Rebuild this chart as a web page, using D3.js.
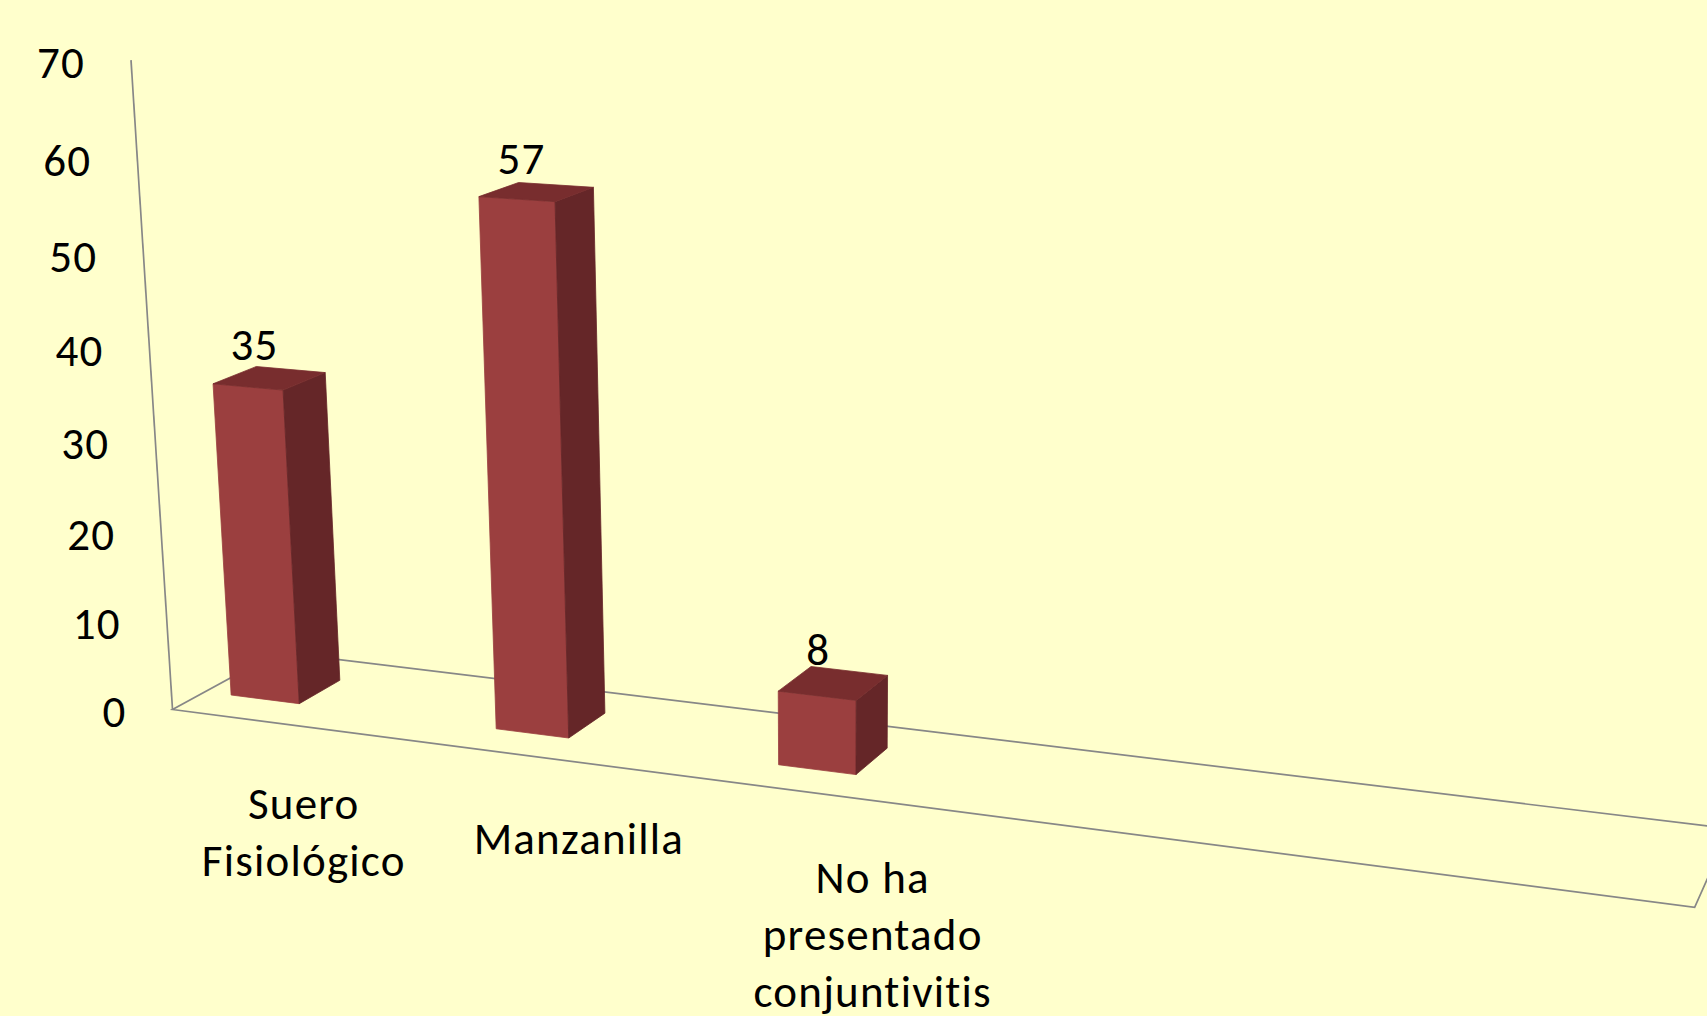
<!DOCTYPE html>
<html>
<head>
<meta charset="utf-8">
<script src="https://cdn.jsdelivr.net/npm/d3@7"></script>
<style>
body { margin: 0; background: #ffffcc; }
svg text { font-family: Carlito, Calibri, Lato, sans-serif; fill: #000; font-variant-ligatures: none; letter-spacing: 1.2px; }
</style>
</head>
<body>
<div id="chart"></div>
<script>
// data
var categories = ["Suero Fisiológico", "Manzanilla", "No ha presentado conjuntivitis"];
var categoryLines = [["Suero", "Fisiológico"], ["Manzanilla"], ["No ha", "presentado", "conjuntivitis"]];
var values = [35, 57, 8];
var yTicks = [0, 10, 20, 30, 40, 50, 60, 70];

// svg dims
var svgWidth = 1707;
var svgHeight = 1016;
var fontSize = 45;

// perspective camera, world coords: x in category steps, y in value units, z = depth (0 front, 1 back)
// each entry is a homogeneous screen vector
var cam = {
    o: [172.5, 709.5, 1],
    x: [252.9, 11.49, -0.03113],
    y: [-0.7039, -9.328, -0.000848],
    z: [119.5, -23.39, 0.05197]
};

function project(x, y, z) {
    var h = [0, 1, 2].map(i => cam.o[i] + x * cam.x[i] + y * cam.y[i] + z * cam.z[i]);
    return [h[0] / h[2], h[1] / h[2]];
}

// scales
var xBand = d3.scaleBand()
    .domain(categories)
    .range([0, 3])
    .paddingInner(0.737)
    .paddingOuter(0.3685);

var yScale = d3.scaleLinear()
    .domain([0, 70])
    .range([0, 70]);

var barShift = -0.267;     // bars sit a little left of their category slot
var floorLength = 4.98;    // floor runs past the last category
var depthFront = 0.3, depthBack = 0.7;

var svg = d3.select("#chart")
    .append("svg")
    .attr("width", svgWidth)
    .attr("height", svgHeight);

svg.append("rect")
    .attr("width", svgWidth)
    .attr("height", svgHeight)
    .attr("fill", "#ffffcc");

var line = d3.line();

// floor outline + vertical axis
var floorPts = [[0, 0, 0], [floorLength, 0, 0], [floorLength, 0, 1], [0, 0, 1]].map(p => project(p[0], p[1], p[2]));
svg.append("path")
    .attr("d", line(floorPts) + "Z")
    .attr("fill", "none")
    .attr("stroke", "#878787")
    .attr("stroke-width", 1.7);

svg.append("path")
    .attr("d", line([project(0, yScale(0), 0), project(0, yScale(70), 0)]))
    .attr("fill", "none")
    .attr("stroke", "#878787")
    .attr("stroke-width", 1.7);

// y tick labels
svg.append("g").selectAll("text")
    .data(yTicks)
    .enter()
    .append("text")
    .attr("x", d => project(0, yScale(d), 0)[0] - 46)
    .attr("y", d => project(0, yScale(d), 0)[1] + 1.5)
    .attr("dy", "0.36em")
    .attr("text-anchor", "end")
    .attr("font-size", fontSize)
    .text(d => d);

// bars
var bars = categories.map((c, i) => ({
    name: c,
    value: values[i],
    x0: xBand(c) + barShift,
    x1: xBand(c) + barShift + xBand.bandwidth()
}));

var barGroup = svg.append("g");

bars.forEach(b => {
    var h = yScale(b.value);
    var faces = [
        { fill: "#9b3f3f", pts: [[b.x0, 0, depthFront], [b.x1, 0, depthFront], [b.x1, h, depthFront], [b.x0, h, depthFront]] },
        { fill: "#652628", pts: [[b.x1, 0, depthFront], [b.x1, 0, depthBack], [b.x1, h, depthBack], [b.x1, h, depthFront]] },
        { fill: "#782d2e", pts: [[b.x0, h, depthFront], [b.x1, h, depthFront], [b.x1, h, depthBack], [b.x0, h, depthBack]] }
    ];
    faces.forEach(f => {
        barGroup.append("path")
            .attr("d", line(f.pts.map(p => project(p[0], p[1], p[2]))) + "Z")
            .attr("fill", f.fill)
            .attr("stroke", f.fill)
            .attr("stroke-width", 0.8)
            .attr("stroke-linejoin", "round");
    });
});

// value labels
svg.append("g").selectAll("text")
    .data(bars)
    .enter()
    .append("text")
    .attr("x", d => project((d.x0 + d.x1) / 2, yScale(d.value), (depthFront + depthBack) / 2)[0] - 15)
    .attr("y", d => project((d.x0 + d.x1) / 2, yScale(d.value), (depthFront + depthBack) / 2)[1] - 34)
    .attr("dy", "0.36em")
    .attr("text-anchor", "middle")
    .attr("font-size", fontSize)
    .text(d => d.value);

// category labels
var catGroup = svg.append("g").selectAll("text")
    .data(categories)
    .enter()
    .append("text")
    .attr("text-anchor", "middle")
    .attr("font-size", fontSize)
    .attr("transform", d => {
        var p = project(xBand(d) + xBand.bandwidth() / 2, 0, 0);
        return `translate(${p[0]}, ${p[1] + 92})`;
    });

catGroup.selectAll("tspan")
    .data((d, i) => categoryLines[i])
    .enter()
    .append("tspan")
    .attr("x", 0)
    .attr("y", (d, j) => j * 57)
    .text(d => d);
</script>
</body>
</html>
